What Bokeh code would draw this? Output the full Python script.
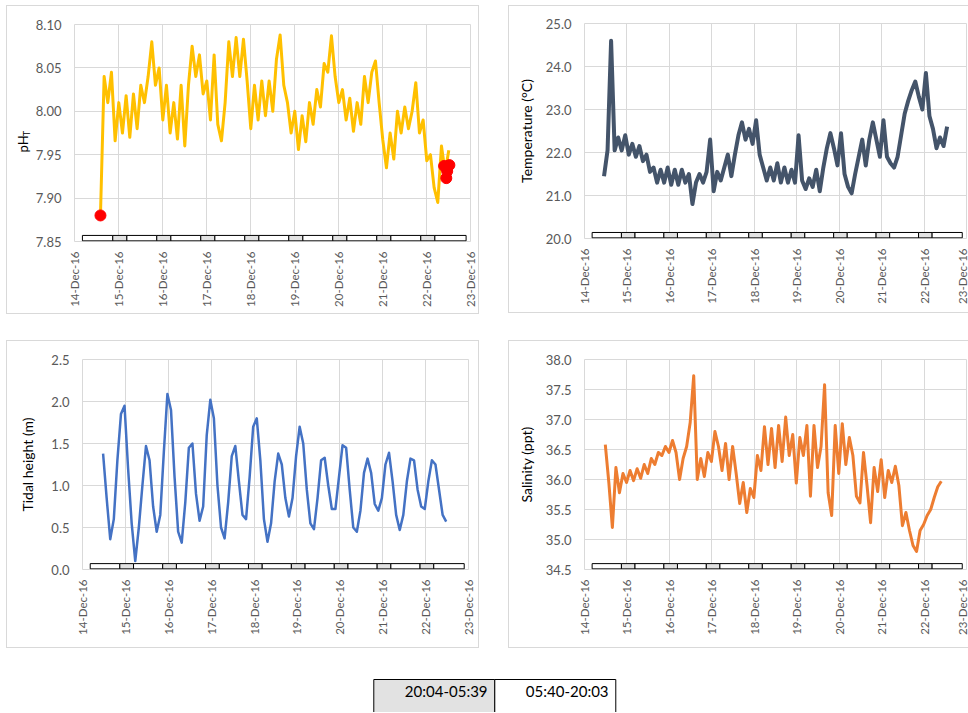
import math
from bokeh.plotting import figure
from bokeh.models import Range1d, FixedTicker, NumeralTickFormatter, Spacer
from bokeh.layouts import column, row
from bokeh.embed import file_html
from bokeh.resources import INLINE
from bokeh.core.properties import value

# ---------------- data ----------------
date_labels = ["14-Dec-16", "15-Dec-16", "16-Dec-16", "17-Dec-16", "18-Dec-16",
               "19-Dec-16", "20-Dec-16", "21-Dec-16", "22-Dec-16", "23-Dec-16"]
day_ticks = [0, 1, 2, 3, 4, 5, 6, 7, 8, 9]   # days after 14-Dec-16
sample_step = 1 / 12                          # 2-hourly readings (days)

ph_start = 0.59
ph_values = [7.880, 8.040, 8.010, 8.045, 7.966, 8.010, 7.975, 8.018, 7.970, 8.020,
             7.980, 8.030, 8.010, 8.040, 8.080, 8.030, 8.050, 7.990, 8.030, 7.975,
             8.010, 7.968, 8.030, 7.960, 8.030, 8.075, 8.040, 8.065, 8.020, 8.035,
             7.990, 8.065, 7.985, 7.966, 8.010, 8.080, 8.040, 8.085, 8.040, 8.083,
             8.035, 7.980, 8.030, 7.990, 8.035, 7.995, 8.035, 8.000, 8.060, 8.088,
             8.030, 8.010, 7.975, 8.000, 7.956, 7.995, 7.965, 8.010, 7.985, 8.025,
             8.005, 8.055, 8.045, 8.087, 8.040, 8.010, 8.025, 7.990, 8.015, 7.977,
             8.010, 7.985, 8.040, 8.010, 8.045, 8.058, 8.010, 7.967, 7.935, 7.975,
             7.945, 8.000, 7.975, 8.005, 7.980, 8.000, 8.033, 7.975, 7.990, 7.943,
             7.950, 7.912, 7.895, 7.960, 7.930, 7.955]
ph_dot_days = [0.59, 8.40, 8.45, 8.47, 8.52]
ph_dot_values = [7.880, 7.937, 7.923, 7.931, 7.938]
ph_ticks = [7.85, 7.90, 7.95, 8.00, 8.05, 8.10]

temp_start = 0.46
temp_values = [21.45, 22.05, 24.60, 22.05, 22.35, 22.05, 22.40, 21.95, 22.20, 21.90,
               22.15, 21.80, 21.95, 21.55, 21.65, 21.30, 21.60, 21.30, 21.65, 21.25,
               21.60, 21.25, 21.60, 21.30, 21.50, 20.80, 21.30, 21.50, 21.30, 21.55,
               22.30, 21.10, 21.55, 21.35, 21.65, 21.95, 21.45, 21.95, 22.40, 22.70,
               22.30, 22.55, 22.20, 22.75, 21.95, 21.65, 21.35, 21.65, 21.35, 21.75,
               21.30, 21.65, 21.30, 21.60, 21.30, 22.40, 21.35, 21.15, 21.40, 21.20,
               21.60, 21.10, 21.65, 22.10, 22.45, 22.10, 21.70, 22.45, 21.50, 21.20,
               21.05, 21.50, 21.90, 22.30, 21.70, 22.30, 22.70, 22.30, 21.90, 22.75,
               21.90, 21.75, 21.65, 21.90, 22.40, 22.90, 23.20, 23.45, 23.65, 23.30,
               23.00, 23.85, 22.85, 22.55, 22.10, 22.35, 22.15, 22.60]
temp_ticks = [20.0, 21.0, 22.0, 23.0, 24.0, 25.0]

tide_start = 0.48
tide_values = [1.38, 0.85, 0.36, 0.60, 1.30, 1.85, 1.95, 1.20, 0.55, 0.10,
               0.50, 1.00, 1.47, 1.30, 0.75, 0.45, 0.65, 1.40, 2.09, 1.90,
               1.10, 0.45, 0.32, 0.80, 1.45, 1.50, 0.90, 0.58, 0.75, 1.60,
               2.02, 1.80, 1.00, 0.50, 0.37, 0.80, 1.35, 1.47, 1.05, 0.65,
               0.60, 1.10, 1.70, 1.80, 1.30, 0.60, 0.33, 0.55, 1.05, 1.38,
               1.25, 0.85, 0.63, 0.85, 1.35, 1.70, 1.50, 0.95, 0.55, 0.48,
               0.85, 1.30, 1.33, 1.00, 0.72, 0.72, 1.10, 1.48, 1.45, 0.95,
               0.50, 0.45, 0.70, 1.15, 1.32, 1.15, 0.78, 0.70, 0.85, 1.25,
               1.39, 1.05, 0.65, 0.47, 0.65, 1.05, 1.32, 1.30, 0.95, 0.75,
               0.72, 1.05, 1.30, 1.25, 0.95, 0.65, 0.57]
tide_ticks = [0.0, 0.5, 1.0, 1.5, 2.0, 2.5]

sal_start = 0.49
sal_values = [36.58, 35.95, 35.20, 36.20, 35.78, 36.10, 35.95, 36.15, 35.98, 36.18,
              36.02, 36.25, 36.10, 36.35, 36.25, 36.45, 36.40, 36.55, 36.45, 36.65,
              36.45, 36.00, 36.35, 36.55, 36.95, 37.73, 36.00, 36.35, 36.05, 36.45,
              36.30, 36.80, 36.55, 36.15, 36.60, 36.00, 36.55, 36.10, 35.60, 35.95,
              35.45, 35.85, 35.70, 36.40, 36.15, 36.88, 36.25, 36.85, 36.20, 36.90,
              36.30, 37.04, 36.40, 36.75, 35.94, 36.70, 36.40, 36.90, 35.72, 36.90,
              36.20, 36.55, 37.58, 35.78, 35.40, 36.90, 36.10, 36.93, 36.25, 36.70,
              36.40, 35.72, 35.61, 36.45, 35.90, 35.28, 36.20, 35.80, 36.33, 35.70,
              36.15, 35.95, 36.22, 35.90, 35.23, 35.45, 35.15, 34.90, 34.80, 35.15,
              35.25, 35.40, 35.50, 35.70, 35.88, 35.97]
sal_ticks = [34.5, 35.0, 35.5, 36.0, 36.5, 37.0, 37.5, 38.0]

# day / night bar (days after 14-Dec-16)
bar_start = 0.18
bar_end = 8.90
night_starts = [0.87, 1.87, 2.87, 3.87, 4.87, 5.87, 6.87, 7.87]
night_ends = [1.19, 2.19, 3.19, 4.19, 5.19, 6.19, 7.19, 8.19]
legend_labels = ["20:04-05:39", "05:40-20:03"]

# ---------------- styling ----------------
FONT = "Lato"
GRID = "#D9D9D9"
NIGHT = "#E2E2E2"
FULL_BOX = "inset 0 0 0 1px #D9D9D9"
OPEN_BOX = "inset 1px 1px 0 0 #D9D9D9, inset 0 -1px 0 0 #D9D9D9"


def days_for(start, vals):
    return [start + i * sample_step for i in range(len(vals))]


def bar_segments():
    lefts, rights, fills = [], [], []
    prev = bar_start
    for s, e in zip(night_starts, night_ends):
        lefts += [prev, s]
        rights += [s, e]
        fills += ["white", NIGHT]
        prev = e
    lefts.append(prev)
    rights.append(bar_end)
    fills.append("white")
    return lefts, rights, fills


def panel(w, h, bl, br, bt, bb, yticks, fmt, ylabel, shadow, label_standoff=8):
    y_lo, y_hi = yticks[0], yticks[-1]
    p = figure(width=w, height=h, x_range=Range1d(0, 9), y_range=Range1d(y_lo, y_hi),
               output_backend="svg", toolbar_location=None, title=None,
               min_border_left=bl, min_border_right=br, min_border_top=bt,
               min_border_bottom=bb, border_fill_color=None,
               background_fill_color="white", outline_line_color=GRID)
    if shadow:
        p.styles = {"box-shadow": shadow, "background": "white"}
    p.xaxis.ticker = FixedTicker(ticks=day_ticks)
    p.xaxis.major_label_overrides = {d: lab for d, lab in zip(day_ticks, date_labels)}
    p.xaxis.major_label_orientation = math.pi / 2
    p.yaxis.ticker = FixedTicker(ticks=yticks)
    p.yaxis.formatter = NumeralTickFormatter(format=fmt)
    for ax in p.axis:
        ax.axis_line_color = None
        ax.major_tick_line_color = None
        ax.minor_tick_line_color = None
        ax.major_tick_out = 0
        ax.major_tick_in = 0
        ax.minor_tick_out = 0
        ax.minor_tick_in = 0
        ax.major_label_text_font = FONT
        ax.major_label_text_color = "#595959"
    p.xaxis.major_label_text_font_size = "11.5px"
    p.yaxis.major_label_text_font_size = "13px"
    p.xaxis.major_label_standoff = 10
    p.yaxis.major_label_standoff = 13
    if ylabel:
        p.yaxis.axis_label = ylabel
        p.yaxis.axis_label_text_font = FONT
        p.yaxis.axis_label_text_font_size = "14px"
        p.yaxis.axis_label_text_font_style = "normal"
        p.yaxis.axis_label_text_color = "#000000"
        p.yaxis.axis_label_standoff = label_standoff
    p.grid.grid_line_color = GRID
    p.grid.grid_line_width = 1
    return p


def add_bar(p, yticks):
    y_lo, y_hi = yticks[0], yticks[-1]
    span = y_hi - y_lo
    l, r, f = bar_segments()
    p.quad(left=l, right=r, bottom=[y_lo + 0.003 * span] * len(l),
           top=[y_lo + 0.028 * span] * len(l), fill_color=f,
           line_color="black", line_width=1)


# pH panel: a narrow strip carrying the "pH_T" axis title + the chart itself
lab = figure(width=26, height=309, x_range=Range1d(0, 26), y_range=Range1d(0, 309),
             output_backend="svg", toolbar_location=None, title=None, min_border=0,
             min_border_left=0, min_border_right=0, min_border_top=0,
             min_border_bottom=0,
             x_axis_location=None, y_axis_location=None, outline_line_color=None,
             border_fill_color=None, background_fill_color=None)
lab.grid.visible = False
lab.text(x=[16], y=[139], text=["pH"], angle=math.pi / 2, text_align="center",
         text_baseline="middle", text_font=value(FONT), text_font_size="13px",
         text_color="black")
lab.text(x=[19.5], y=[153.5], text=["T"], angle=math.pi / 2, text_align="center",
         text_baseline="middle", text_font=value(FONT), text_font_size="9px",
         text_color="black")

p1 = panel(447, 309, 42, 9, 19, 73, ph_ticks, "0.00", None, None)
p1.line(days_for(ph_start, ph_values), ph_values, line_color="#FFC000",
        line_width=3, line_join="round")
add_bar(p1, ph_ticks)
p1.scatter(ph_dot_days, ph_dot_values, size=11, fill_color="#FF0000",
           line_color="#FF0000")
ph_box = row(lab, p1, styles={"box-shadow": FULL_BOX, "background": "white"})

# temperature panel
p2 = panel(460, 308, 76, 2, 18, 75, temp_ticks, "0.0", "Temperature (°C)", OPEN_BOX)
p2.line(days_for(temp_start, temp_values), temp_values, line_color="#44546A",
        line_width=4, line_join="round")
add_bar(p2, temp_ticks)

# tidal panel
p3 = panel(473, 308, 76, 11, 19, 79, tide_ticks, "0.0", "Tidal height (m)", FULL_BOX,
           label_standoff=12)
p3.line(days_for(tide_start, tide_values), tide_values, line_color="#4472C4",
        line_width=2.5, line_join="round")
add_bar(p3, tide_ticks)

# salinity panel
p4 = panel(460, 308, 76, 2, 19, 77, sal_ticks, "0.0", "Salinity (ppt)", OPEN_BOX)
p4.line(days_for(sal_start, sal_values), sal_values, line_color="#ED7D31",
        line_width=3, line_join="round")
add_bar(p4, sal_ticks)

# legend strip
leg = figure(width=962, height=64, x_range=Range1d(-3.0355, 4.9149),
             y_range=Range1d(-0.03125, 1.96875), output_backend="svg",
             toolbar_location=None, title=None, min_border=0,
             min_border_left=0, min_border_right=0, min_border_top=0,
             min_border_bottom=0, outline_line_color=None,
             x_axis_location=None, y_axis_location=None)
leg.grid.visible = False
leg.quad(left=[0, 1], right=[1, 2], bottom=[-1, -1], top=[1, 1],
         fill_color=[NIGHT, "white"], line_color="black", line_width=1)
leg.text(x=[0.94, 1.94], y=[0.64, 0.64], text=legend_labels, text_align="right",
         text_baseline="middle", text_font=value(FONT), text_font_size="15px",
         text_color="black")

body = column(Spacer(height=5),
              row(ph_box, Spacer(width=29), p2),
              Spacer(height=26),
              row(p3, Spacer(width=29), p4),
              leg)
layout = row(Spacer(width=6), body)

open("out.html", "w").write(file_html(layout, INLINE))
